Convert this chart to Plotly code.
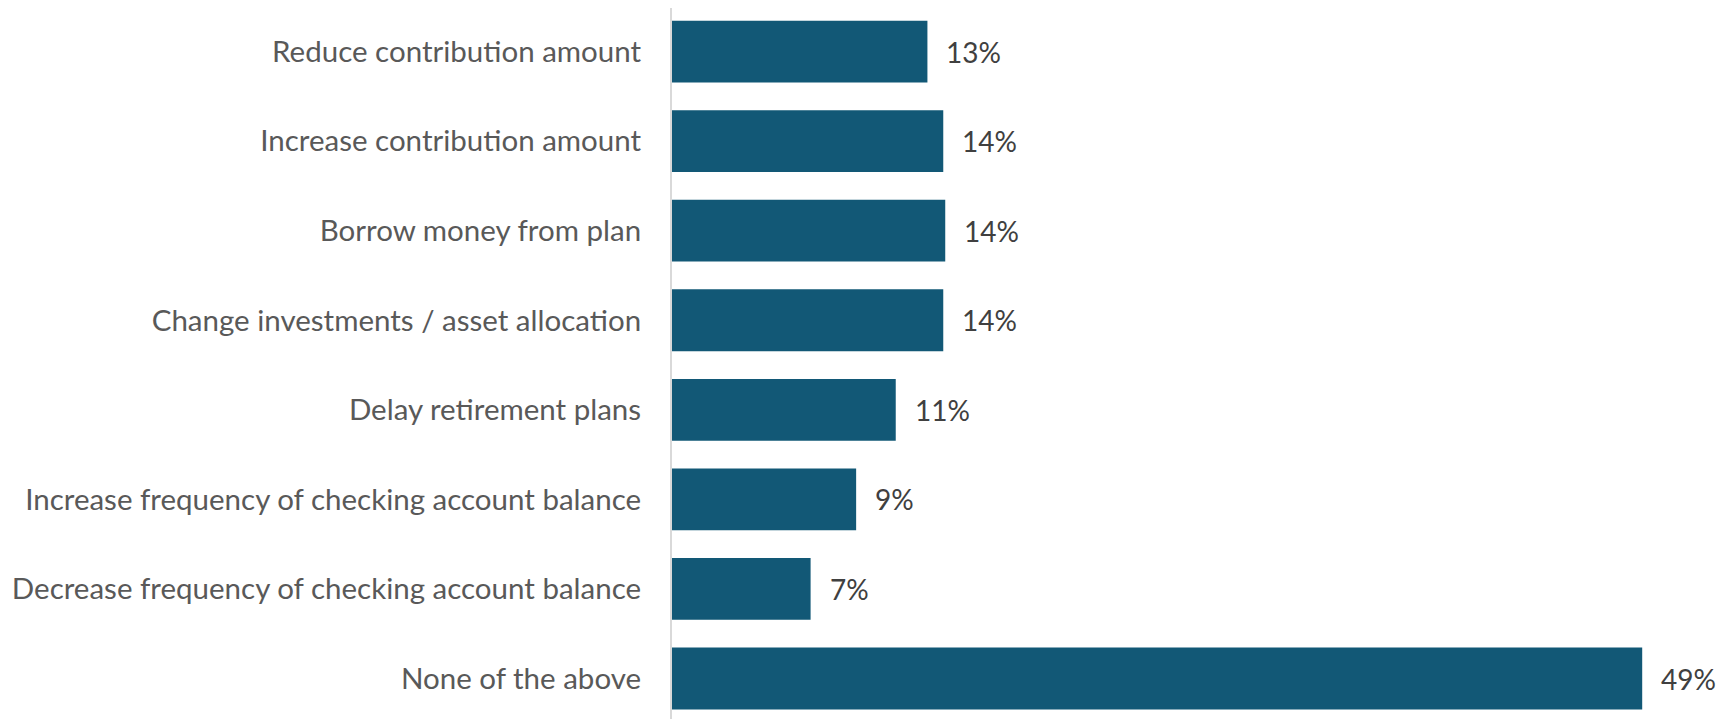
import plotly.graph_objects as go

categories = [
    "Reduce contribution amount",
    "Increase contribution amount",
    "Borrow money from plan",
    "Change investments / asset allocation",
    "Delay retirement plans",
    "Increase frequency of checking account balance",
    "Decrease frequency of checking account balance",
    "None of the above",
]
values = [12.9, 13.7, 13.8, 13.7, 11.3, 9.3, 7.0, 49.0]
labels = [f"{round(v)}%" for v in values]

BAR_COLOR = "#125876"
FONT = "Lato"

fig = go.Figure()
fig.add_trace(go.Bar(
    x=values,
    y=categories,
    orientation="h",
    marker=dict(color=BAR_COLOR, line=dict(width=0)),
    width=0.69,
    hoverinfo="skip",
))

for c, v, t in zip(categories, values, labels):
    fig.add_annotation(
        x=v, y=c, text=t, showarrow=False,
        xanchor="left", yanchor="middle", xshift=17,
        font=dict(family=FONT, size=28, color="#404040"),
    )

fig.update_layout(
    width=1713, height=711,
    margin=dict(l=664, r=0, t=0, b=0),
    paper_bgcolor="white", plot_bgcolor="white",
    showlegend=False,
    font=dict(family=FONT, size=29, color="#595959"),
    xaxis=dict(range=[0, 52.98], visible=False, fixedrange=True),
    yaxis=dict(
        type="category",
        categoryorder="array", categoryarray=categories,
        range=[7.452, -0.486],
        showline=True, linecolor="#D9D9D9", linewidth=2,
        showgrid=False, zeroline=False, ticks="",
        ticklabelstandoff=23,
        tickfont=dict(family=FONT, size=29.5, color="#595959"),
    ),
)

fig.write_html("out.html")
